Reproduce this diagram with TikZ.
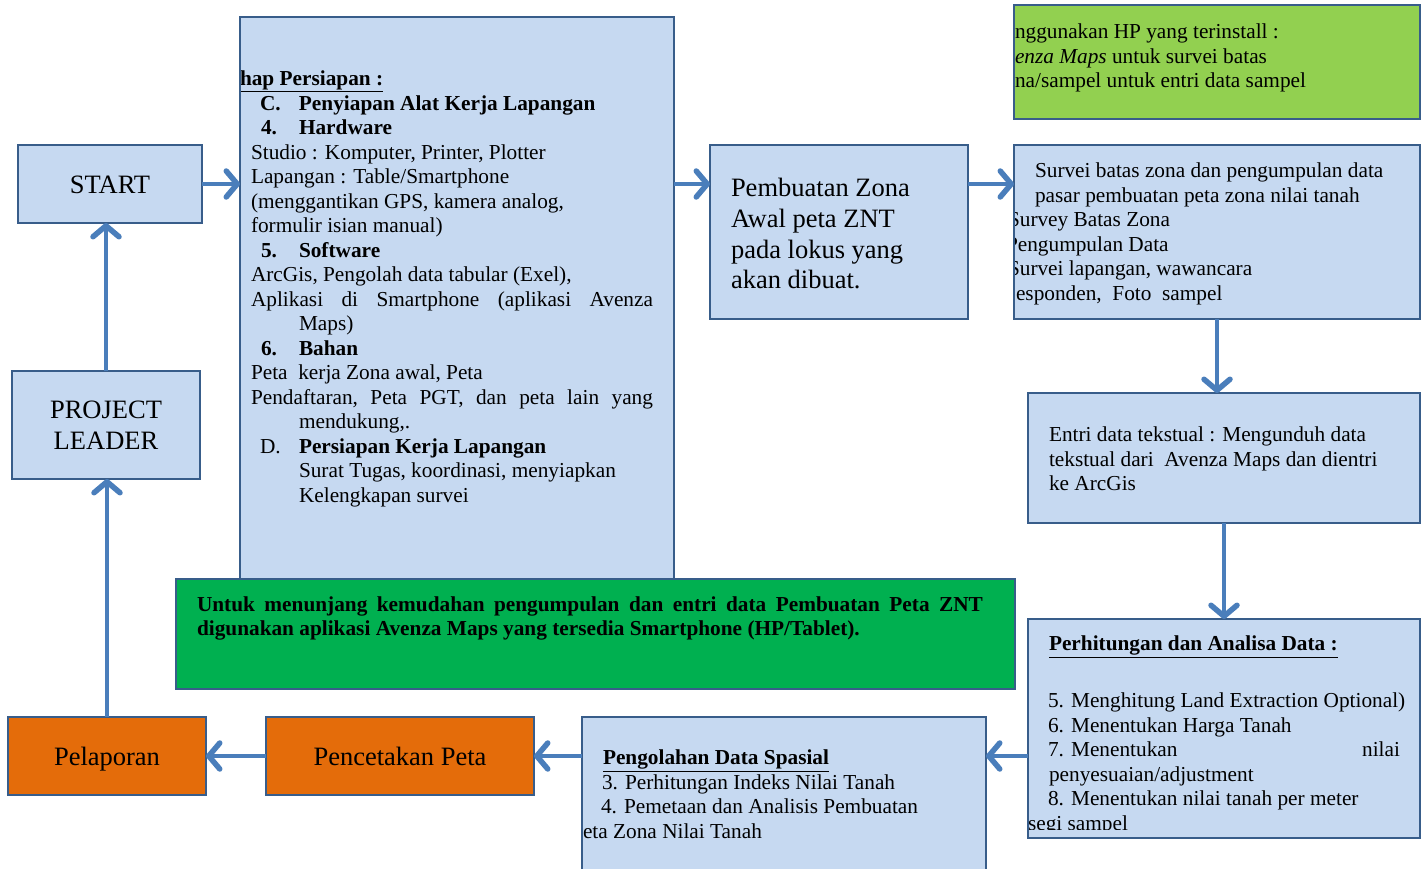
\documentclass[tikz,border=0pt]{standalone}
\usepackage{fontspec}
\setmainfont{Liberation Serif}
\usetikzlibrary{arrows.meta}
\definecolor{lblue}{HTML}{C6D9F1}
\definecolor{bordc}{HTML}{385D8A}
\definecolor{arrc}{HTML}{4A7EBB}
\definecolor{dgreen}{HTML}{00B050}
\definecolor{lgreen}{HTML}{92D050}
\definecolor{orng}{HTML}{E46C0A}
\begin{document}
\begin{tikzpicture}[x=1pt,y=-1pt,
  box/.style={draw=bordc, line width=2.2pt, fill=lblue, inner sep=0pt, outer sep=0pt},
  txt/.style={inner sep=0pt, outer sep=0pt, anchor=north west, align=left, yshift=-1.5pt, font=\fontsize{21.3}{24.5}\selectfont},
  bigtxt/.style={font=\fontsize{26.5}{30.6}\selectfont},
  arr/.style={draw=arrc, line width=4.5pt, -{Straight Barb[length=11pt,width=26pt,round,line width=5.5pt]}}]
\useasboundingbox (0,0) rectangle (1427,869);
\fill[white] (0,0) rectangle (1427,869);

% boxes
\node[box, minimum width=434pt, minimum height=563pt] (big) at (457,298.5) {};
\node[box, fill=dgreen, minimum width=839pt, minimum height=110pt] (note) at (595.5,634) {};
\node[box, minimum width=258pt, minimum height=174pt] (pemb) at (839,232) {};
\node[box, fill=lgreen, minimum width=406pt, minimum height=114pt] (hp) at (1217,62) {};
\node[box, minimum width=406pt, minimum height=174pt] (surv) at (1217,232) {};
\node[box, minimum width=392pt, minimum height=130pt] (entri) at (1224,458) {};
\node[box, minimum width=392pt, minimum height=219pt] (perh) at (1224,728.5) {};
\node[box, minimum width=404pt, minimum height=158pt] (peng) at (784,796) {};
\node[box, bigtxt, text height=24pt, text depth=4pt, minimum width=184pt, minimum height=78pt] (start) at (110,184) {START};
\node[box, bigtxt, align=center, minimum width=188pt, minimum height=108pt] (pl) at (106,425) {PROJECT\\LEADER};
\node[box, bigtxt, text height=24pt, text depth=6pt, fill=orng, minimum width=198pt, minimum height=78pt] (pelap) at (107,756) {Pelaporan};
\node[box, bigtxt, text height=24pt, text depth=6pt, fill=orng, minimum width=268pt, minimum height=78pt] (penc) at (400,756) {Pencetakan Peta};

% big box text
\begin{scope}
\clip (241.2,18) rectangle (672.8,578);
\node[txt] (prep) at (240,67) {\strut\underline{\textbf{hap Persiapan :}}\\
\hspace*{20pt}\makebox[39pt][l]{\textbf{C.}}\textbf{Penyiapan Alat Kerja Lapangan}\\
\hspace*{21pt}\makebox[38pt][l]{\textbf{4.}}\textbf{Hardware}\\
\hspace*{11pt}Studio : Komputer, Printer, Plotter\\
\hspace*{11pt}Lapangan : Table/Smartphone\\
\hspace*{11pt}(menggantikan GPS, kamera analog,\\
\hspace*{11pt}formulir isian manual)\\
\hspace*{21pt}\makebox[38pt][l]{\textbf{5.}}\textbf{Software}\\
\hspace*{11pt}ArcGis, Pengolah data tabular (Exel),\\
\hspace*{11pt}\hbox to 402pt{Aplikasi\hfill di\hfill Smartphone\hfill (aplikasi\hfill Avenza}\\
\hspace*{59pt}Maps)\\
\hspace*{21pt}\makebox[38pt][l]{\textbf{6.}}\textbf{Bahan}\\
\hspace*{11pt}Peta\ \ kerja Zona awal, Peta\\
\hspace*{11pt}\hbox to 402pt{Pendaftaran,\hfill Peta\hfill PGT,\hfill dan\hfill peta\hfill lain\hfill yang}\\
\hspace*{59pt}mendukung,.\\
\hspace*{20pt}\makebox[39pt][l]{D.}\textbf{Persiapan Kerja Lapangan}\\
\hspace*{59pt}Surat Tugas, koordinasi, menyiapkan\\
\hspace*{59pt}Kelengkapan survei};
\end{scope}

% green note text
\node[txt, font=\bfseries\fontsize{21.3}{24}\selectfont] (notetxt) at (197,593.2) {\strut\hbox to 786pt{Untuk\hfill menunjang\hfill kemudahan\hfill pengumpulan\hfill dan\hfill entri\hfill data\hfill Pembuatan\hfill Peta\hfill ZNT}\\
digunakan aplikasi Avenza Maps yang tersedia Smartphone (HP/Tablet).};

% Pembuatan zona
\node[txt, bigtxt] (pembtxt) at (731,174) {\strut Pembuatan Zona\\Awal peta ZNT\\pada lokus yang\\akan dibuat.};

% HP box
\begin{scope}
\clip (1015.2,6) rectangle (1418.8,118);
\node[txt] (hptxt) at (1015,20) {\strut nggunakan HP yang terinstall :\\
\textit{enza Maps} untuk survei batas\\
na/sampel untuk entri data sampel};
\end{scope}

% Survei box
\begin{scope}
\clip (1015.2,146) rectangle (1418.8,318);
\node[txt] (survtxt) at (1006,159) {\strut\hspace*{29pt}Survei batas zona dan pengumpulan data\\
\hspace*{29pt}pasar pembuatan peta zona nilai tanah\\
\hspace*{2pt}Survey Batas Zona\\
Pengumpulan Data\\
\hspace*{2pt}Survei lapangan, wawancara\\
\hspace*{10pt}esponden,\ \ Foto\ \ sampel};
\end{scope}

% Entri box
\node[txt] (entritxt) at (1049,423) {\strut Entri data tekstual : Mengunduh data\\
tekstual dari\ \ Avenza Maps dan dientri\\
ke ArcGis};

% Perhitungan box
\node[txt] (perhtitle) at (1049,632) {\strut\underline{\textbf{Perhitungan dan Analisa Data :}}};
\begin{scope}
\clip (1029.2,620) rectangle (1418.8,829.5);
\node[txt] (perhtxt) at (1028,689) {\strut\hspace*{20pt}5. Menghitung Land Extraction Optional)\\
\hspace*{20pt}6. Menentukan Harga Tanah\\
\hspace*{20pt}\hbox to 352pt{7. Menentukan\hfill nilai}\\
\hspace*{21pt}penyesuaian/adjustment\\
\hspace*{20pt}8. Menentukan nilai tanah per meter\\
segi sampel};
\end{scope}

% Pengolahan box
\begin{scope}
\clip (583.2,718) rectangle (984.8,869);
\node[txt] (pengtxt) at (583,746) {\strut\hspace*{20pt}\underline{\textbf{Pengolahan Data Spasial}}\\
\hspace*{19pt}3. Perhitungan Indeks Nilai Tanah\\
\hspace*{18pt}4. Pemetaan dan Analisis Pembuatan\\
eta Zona Nilai Tanah};
\end{scope}

% connectors
\draw[arr] (start.east) -- (start.east -| big.west);
\draw[arr] (start.east -| big.east) -- (start.east -| pemb.west);
\draw[arr] (start.east -| pemb.east) -- (start.east -| surv.west);
\draw[arr] (surv.south) -- (surv.south |- entri.north);
\draw[arr] (entri.south) -- (perh.north);
\draw[arr] (pelap.east -| perh.west) -- (pelap.east -| peng.east);
\draw[arr] (pelap.east -| peng.west) -- (penc.east);
\draw[arr] (penc.west) -- (pelap.east);
\draw[arr] (pelap.north) -- (pelap.north |- pl.south);
\draw[arr] (pl.north) -- (pl.north |- start.south);
\end{tikzpicture}
\end{document}
